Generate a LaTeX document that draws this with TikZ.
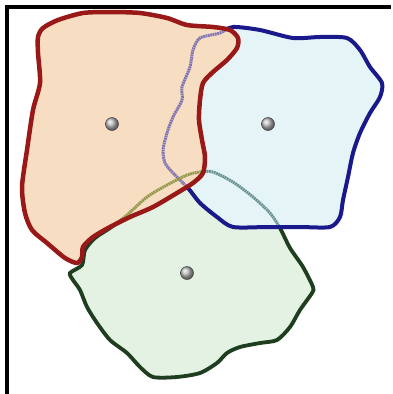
\documentclass[tikz,border=0pt]{standalone}
\usepackage{tikz}
\usepackage{xcolor}
\definecolor{redline}{rgb}{0.6,0.1,0.1}
\definecolor{redfill}{rgb}{0.97,0.87,0.76}
\definecolor{blueline}{rgb}{0.1,0.1,0.55}
\definecolor{bluefill}{rgb}{0.9,0.96,0.97}
\definecolor{greenline}{rgb}{0.12,0.24,0.12}
\definecolor{greenfill}{rgb}{0.89,0.95,0.89}
\definecolor{bluehid}{rgb}{0.5,0.46,0.7}
\definecolor{greenhidr}{rgb}{0.58,0.6,0.3}
\definecolor{greenhidb}{rgb}{0.42,0.58,0.58}
\def\redpath{plot[smooth cycle,tension=0.45] coordinates {(38,37) (43,28) (58,20) (83,13) (110,12) (140,13) (167,18) (187,25) (213,27) (230,30) (238,38) (237,48) (227,60) (213,72) (203,83) (200,100) (199,120) (202,140) (205,157) (203,173) (193,183) (177,193) (153,207) (130,217) (110,227) (93,237) (83,247) (82,257) (77,263) (65,258) (47,243) (32,230) (25,213) (22,187) (27,150) (33,110) (40,83) (38,53)}}
\def\bluepath{plot[smooth cycle,tension=0.45] coordinates {(220,33) (233,27) (260,30) (293,38) (320,37) (347,38) (360,50) (370,67) (382,83) (380,97) (370,113) (360,133) (353,153) (348,177) (343,200) (340,217) (330,227) (300,227) (267,227) (233,227) (217,217) (200,203) (188,188) (173,173) (165,163) (163,150) (167,133) (173,117) (182,100) (182,87) (190,67) (193,50) (200,38)}}
\def\greenpath{plot[smooth cycle,tension=0.45] coordinates {(70,273) (82,265) (85,250) (95,238) (110,228) (127,215) (147,197) (167,185) (187,175) (200,172) (213,172) (233,182) (253,197) (270,213) (280,228) (290,248) (303,267) (313,287) (312,293) (300,310) (290,327) (277,340) (260,343) (240,347) (227,353) (217,363) (200,373) (177,377) (153,377) (140,367) (127,353) (110,340) (97,323) (87,307) (80,290) (73,280)}}
\begin{document}
\begin{tikzpicture}[seed/.style={circle, ball color=gray!50, draw=black!75, line width=0.5pt, minimum size=13pt, inner sep=0pt},hidden/.style={line width=3pt, dash pattern=on 1.8pt off 0.6pt},x=1pt,y=-1pt]
\useasboundingbox (0,0) rectangle (393,394);
\fill [white] (0,0) rectangle (393,394);
\fill [greenfill] \greenpath;
\draw [line width=3.8pt,color=greenline] \greenpath;
\fill [bluefill] \bluepath;
\begin{scope}
\clip \bluepath;
\draw [hidden,color=greenhidb] \greenpath;
\end{scope}
\draw [line width=4pt,color=blueline] \bluepath;
\fill [redfill] \redpath;
\begin{scope}
\clip \redpath;
\draw [hidden,color=bluehid] \bluepath;
\draw [hidden,color=greenhidr] \greenpath;
\end{scope}
\draw [line width=4.5pt,color=redline] \redpath;
\node [seed] (redseed) at (112,124) {};
\node [seed] (blueseed) at (268,124) {};
\node [seed] (greenseed) at (187,273) {};
\draw [line width=4pt] (7,394) -- (7,7) -- (391,7);
\end{tikzpicture}
\end{document}
